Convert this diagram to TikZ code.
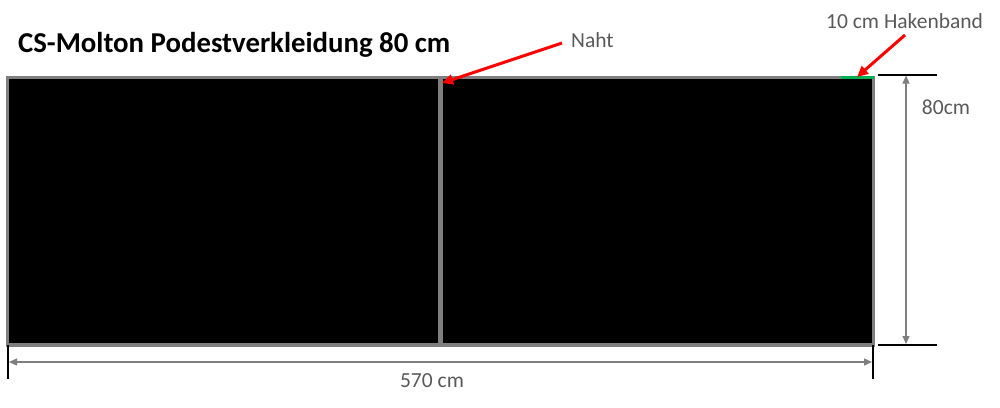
\documentclass[tikz,border=0pt]{standalone}
\usepackage{fontspec}
\setmainfont{Carlito}
\usetikzlibrary{arrows.meta}
\definecolor{bordergray}{HTML}{7F7F7F}
\definecolor{txtgray}{HTML}{595959}
\definecolor{hookgreen}{HTML}{00B050}
\definecolor{arrred}{HTML}{FF0000}
\tikzset{
  panel/.style={draw=bordergray, line width=3.5pt, fill=black, inner sep=0pt, outer sep=0pt},
  seamline/.style={draw=bordergray, line width=5pt},
  dimline/.style={draw=bordergray, line width=1.3pt, {Triangle[length=8pt,width=7pt]}-{Triangle[length=8pt,width=7pt]}},
  extline/.style={draw=black, line width=2pt},
  callout/.style={draw=arrred, line width=3pt, -{Triangle[length=11pt,width=10pt]}},
  lbl/.style={text=txtgray, font=\fontsize{21.5}{24}\selectfont, inner sep=0pt},
}
\begin{document}
\begin{tikzpicture}[x=1pt,y=-1pt]
\useasboundingbox (0,0) rectangle (1000,407);
% title
\node[anchor=west, inner sep=0pt, font=\fontsize{28.8}{32}\bfseries] (title) at (18,45) {CS-Molton Podestverkleidung 80 cm};
% panel
\node[panel, minimum width=866pt, minimum height=267.5pt, anchor=north west] (panel) at (7.5,77.5) {};
\coordinate (seamtop) at (440,77.5);
\coordinate (seambot) at (440,344.5);
\draw[seamline] (seamtop) -- (seambot);
% green hook band
\coordinate (g1) at (841,77.5);
\coordinate (g2) at (873.5,77.5);
\draw[hookgreen, line width=3.5pt] (g1) -- (g2);
% right extension lines
\coordinate (rt1) at (878,74.5);
\coordinate (rt2) at (937,74.5);
\coordinate (rb1) at (878,345);
\coordinate (rb2) at (937,345);
\draw[extline] (rt1) -- (rt2);
\draw[extline] (rb1) -- (rb2);
\coordinate (vtop) at (906,75.5);
\coordinate (vbot) at (906,344);
\draw[dimline] (vtop) -- (vbot);
\node[lbl] (h) at (946,107) {80cm};
% bottom extension lines
\coordinate (bl1) at (8,345);
\coordinate (bl2) at (8,379);
\coordinate (br1) at (873,345);
\coordinate (br2) at (873,379);
\draw[extline] (bl1) -- (bl2);
\draw[extline] (br1) -- (br2);
\coordinate (hl) at (9,362);
\coordinate (hr) at (872,362);
\draw[dimline] (hl) -- (hr);
\node[lbl] (w) at (432,381) {570 cm};
% callouts
\node[lbl, anchor=west] (naht) at (571,40) {Naht};
\node[lbl, anchor=west] (haken) at (826,21) {10 cm Hakenband};
\coordinate (nahtstart) at (562,43);
\coordinate (nahttip) at (442,83);
\coordinate (hakstart) at (905,35);
\coordinate (haktip) at (857,77);
\draw[callout] (nahtstart) -- (nahttip);
\draw[callout] (hakstart) -- (haktip);
\end{tikzpicture}
\end{document}
